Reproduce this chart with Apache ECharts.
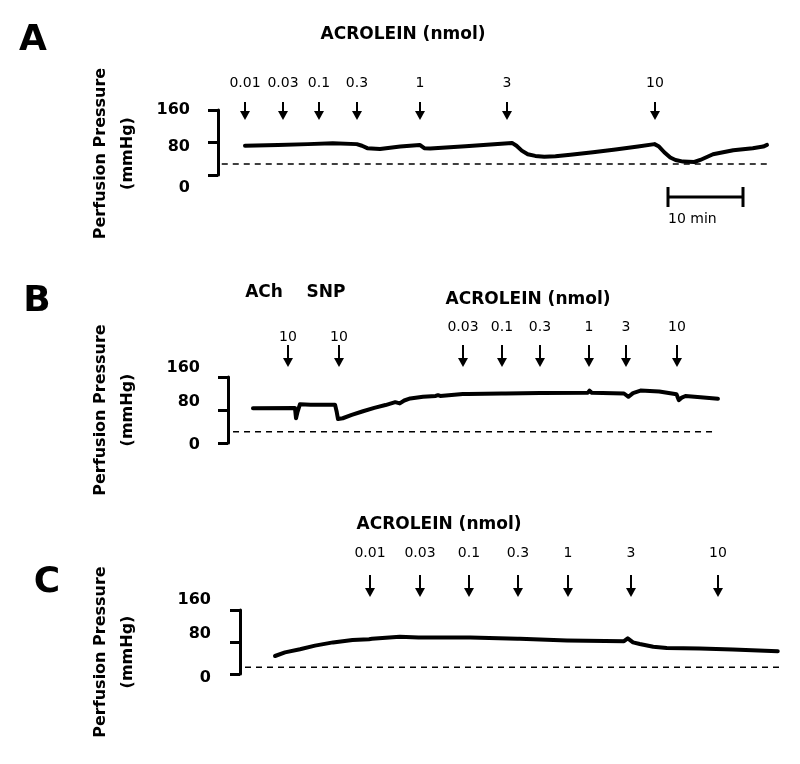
<!DOCTYPE html>
<html><head><meta charset="utf-8">
<script src="https://cdn.jsdelivr.net/npm/echarts@6/dist/echarts.min.js"></script>
<style>html,body{margin:0;padding:0;background:#fff}#c{width:800px;height:764px}</style>
</head><body><div id="c"></div>
<script>
// ---------------- DATA ----------------
// time in minutes (x), perfusion pressure in mmHg (y)
const yTicks = [0, 80, 160];
const yLabelTitle = 'Perfusion Pressure\n(mmHg)';
const scaleBarMinutes = [60, 70];
const scaleBarLabel = '10 min';

// Panel A
const traceA = [[3.6,72],[8,74],[12,76],[15.3,78],[18.5,76],[19.2,72],[19.9,66],[21.6,64],[24.3,70],[26.9,74],[27.5,66],[28.3,65],[33,71],[39.2,79],[39.8,72],[40.5,60],[41.3,51],[42.3,47],[43.5,45],[45,46],[47,50],[50,56],[53,63],[56,70],[58.2,76],[58.8,70],[59.5,56],[60.3,43],[61,37],[62,33],[63.5,32],[64.3,37],[66,51],[68.7,61],[71.3,66],[72.7,70],[73.2,74]];
const baselineA = [[0.5,27],[73.3,27]];
const doseTimesA = [3.6, 8.67, 13.47, 18.53, 26.93, 38.53, 58.27];
const doseLabelsA = ['0.01','0.03','0.1','0.3','1','3','10'];

// Panel B
const traceB = [[3.33,84],[8.93,85],[9.07,60],[9.25,74],[9.6,94],[11,93],[14.27,93],[14.5,75],[14.67,58],[15.3,60],[16.5,68],[18,77],[19.5,85],[21,92],[22.3,99],[22.9,96],[23.5,103],[24.3,108],[26,112],[27.7,114],[28,116],[28.3,114],[31.3,119],[31.5,122],[32,119],[36.5,120],[36.7,123],[37,120],[41.6,121],[41.8,124],[42,121],[48,122],[48.2,127],[48.5,122],[52.8,120],[53.4,112],[54,121],[55,127],[57.5,125],[59.8,118],[60.1,104],[60.5,110],[61,114],[63,111],[65.33,107]];
const baselineB = [[0.67,27],[64.9,27]];
const drugTimesB = [8, 14.8];
const drugLabelsB = ['10','10'];
const doseTimesB = [31.33, 36.53, 41.6, 48.13, 53.07, 59.87];
const doseLabelsB = ['0.03','0.1','0.3','1','3','10'];

// Panel C
const traceC = [[4.67,45],[6,54],[8,62],[10,71],[12.4,79],[15,85],[17.2,87],[17.4,82],[17.6,88],[21.3,93],[23.8,91],[24,88],[24.3,91],[30.3,91],[30.5,89],[30.7,91],[37,88],[37.1,85],[37.3,88],[43.6,84],[51.2,82],[51.7,89],[52.4,79],[53.3,75],[55.1,68],[56.9,65],[61.3,63.5],[65.7,61],[71.7,57]];
const baselineC = [[0.67,17],[72.27,17]];
const doseTimesC = [17.33, 24, 30.53, 37.07, 43.73, 52.13, 63.73];
const doseLabelsC = ['0.01','0.03','0.1','0.3','1','3','10'];

// ---------------- STYLE / LAYOUT ----------------
const FONT = "'DejaVu Sans', sans-serif";
const panels = [
  {grid:{left:218, top:110, width:555, height:65}, nameGap:77, namePad:[0,22,0,0], shifts:{160:0, 80:4, 0:13}, margin:28},
  {grid:{left:228, top:377, width:555, height:66}, nameGap:87, namePad:[0,0,0,0], shifts:{160:-9, 80:-8, 0:2}, margin:28},
  {grid:{left:240, top:610, width:555, height:64}, nameGap:99, namePad:[0,20,0,0], shifts:{160:-10, 80:-8, 0:4}, margin:29}
];

function pad(d){ return d >= 0 ? [2*d,0,0,0] : [0,0,-2*d,0]; }

const grids = panels.map(p => Object.assign({containLabel:false}, p.grid));
const xAxes = panels.map((p,i) => ({gridIndex:i, type:'value', min:0, max:74, show:false}));
const yAxes = panels.map((p,i) => {
  const rich = {};
  yTicks.forEach(v => { rich['s'+v] = {padding: pad(p.shifts[v]), fontFamily:FONT, fontWeight:'bold', fontSize:16, color:'#000'}; });
  return {
    gridIndex:i, type:'value', min:0, max:160, interval:80,
    axisLine:{show:true, lineStyle:{color:'#000', width:3}},
    axisTick:{show:true, length:10, lineStyle:{color:'#000', width:3}},
    splitLine:{show:false},
    axisLabel:{margin:p.margin, color:'#000', fontFamily:FONT, fontWeight:'bold', fontSize:16,
      formatter: v => '{s'+v+'|'+v+'}', rich},
    name: yLabelTitle, nameLocation:'middle', nameGap:p.nameGap,
    nameTextStyle:{color:'#000', fontFamily:FONT, fontWeight:'bold', fontSize:16, lineHeight:27, padding:p.namePad}
  };
});

function traceSeries(i, data){
  return {type:'line', xAxisIndex:i, yAxisIndex:i, data, symbol:'none', showSymbol:false, clip:false,
    lineStyle:{color:'#000', width:4, join:'round', cap:'round'}, silent:true, z:3};
}
function baseSeries(i, data){
  return {type:'line', xAxisIndex:i, yAxisIndex:i, data, symbol:'none', showSymbol:false, clip:false,
    lineStyle:{color:'#000', width:1.5, type:[6,5]}, silent:true, z:2};
}
function arrowSeries(i, times, labels, s){
  return {type:'custom', xAxisIndex:i, yAxisIndex:i, clip:false, silent:true,
    data: times.map(t => [t, 160]),
    renderItem: (params, api) => {
      const p = api.coord([api.value(0), 160]);
      const x = Math.round(p[0]), y0 = p[1];
      return {type:'group', children:[
        {type:'line', shape:{x1:x, y1:y0+s.top, x2:x, y2:y0+s.tip-6}, style:{stroke:'#000', lineWidth:2}},
        {type:'polygon', shape:{points:[[x-5,y0+s.tip-9],[x+5,y0+s.tip-9],[x,y0+s.tip]]}, style:{fill:'#000'}},
        {type:'text', x:x, y:y0+s.label, style:{text:labels[params.dataIndex], fill:'#000', font:'14px '+FONT, align:'center', verticalAlign:'middle'}}
      ]};
    }};
}
const scaleBar = {type:'custom', xAxisIndex:0, yAxisIndex:0, clip:false, silent:true,
  data:[[scaleBarMinutes[0], 0, scaleBarMinutes[1]]],
  renderItem: (params, api) => {
    const a = api.coord([api.value(0), 0]);
    const b = api.coord([api.value(2), 0]);
    const y = a[1] + 22;
    return {type:'group', children:[
      {type:'line', shape:{x1:a[0], y1:y, x2:b[0], y2:y}, style:{stroke:'#000', lineWidth:3}},
      {type:'line', shape:{x1:a[0], y1:y-10, x2:a[0], y2:y+10}, style:{stroke:'#000', lineWidth:3}},
      {type:'line', shape:{x1:b[0], y1:y-10, x2:b[0], y2:y+10}, style:{stroke:'#000', lineWidth:3}},
      {type:'text', x:a[0], y:y+22, style:{text:scaleBarLabel, fill:'#000', font:'14px '+FONT, align:'left', verticalAlign:'middle'}}
    ]};
  }};

function txt(text, x, y, size, bold){
  return {type:'text', x, y, style:{text, fill:'#000', font:(bold?'bold ':'')+size+'px '+FONT, align:'center', verticalAlign:'middle'}};
}

const option = {
  backgroundColor:'#fff',
  animation:false,
  grid: grids, xAxis: xAxes, yAxis: yAxes,
  graphic: [
    txt('A', 33, 41, 36, true),
    txt('ACROLEIN (nmol)', 403, 35, 17, true),
    txt('B', 37, 302, 36, true),
    txt('ACh', 264, 293, 17, true),
    txt('SNP', 326, 293, 17, true),
    txt('ACROLEIN (nmol)', 528, 300, 17, true),
    txt('C', 47, 583, 36, true),
    txt('ACROLEIN (nmol)', 439, 525, 17, true)
  ],
  series: [
    baseSeries(0, baselineA), traceSeries(0, traceA),
    arrowSeries(0, doseTimesA, doseLabelsA, {top:-8, tip:10, label:-27}),
    scaleBar,
    baseSeries(1, baselineB), traceSeries(1, traceB),
    arrowSeries(1, drugTimesB, drugLabelsB, {top:-32, tip:-10, label:-40}),
    arrowSeries(1, doseTimesB, doseLabelsB, {top:-32, tip:-10, label:-50}),
    baseSeries(2, baselineC), traceSeries(2, traceC),
    arrowSeries(2, doseTimesC, doseLabelsC, {top:-35, tip:-13, label:-57})
  ]
};
const chart = echarts.init(document.getElementById('c'), null, {renderer:'canvas'});
chart.setOption(option);
</script></body></html>
